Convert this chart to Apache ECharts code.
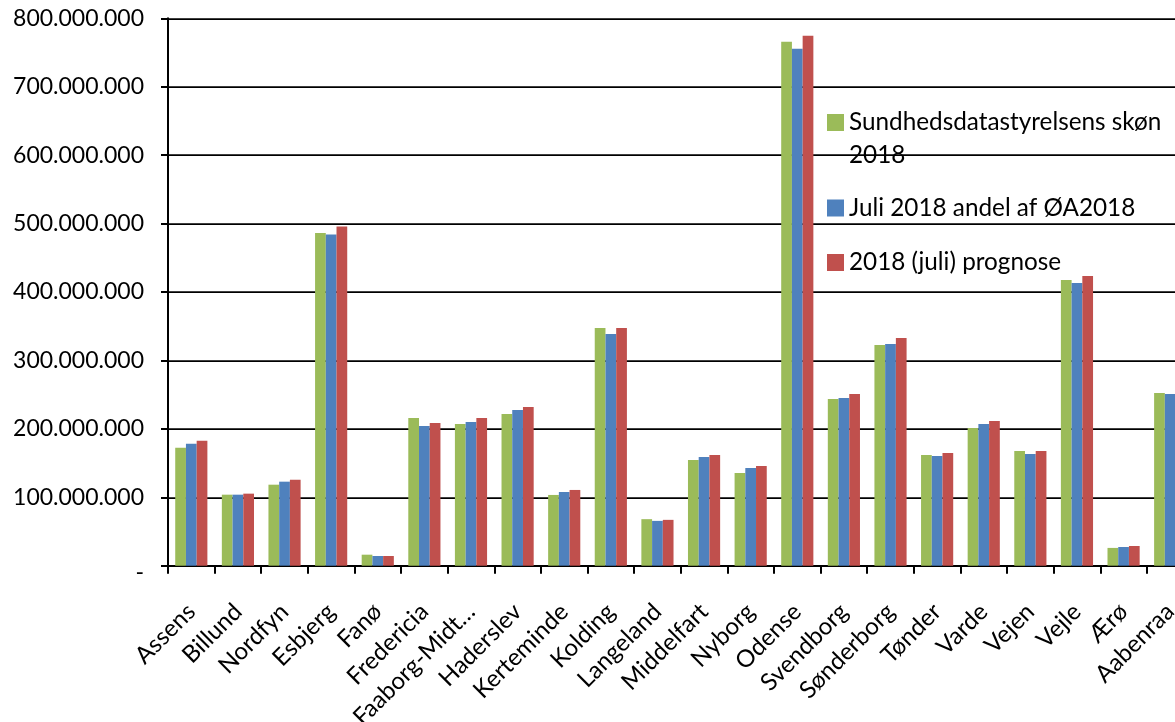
<!DOCTYPE html>
<html>
<head>
<meta charset="utf-8">
<title>Kommuner 2018</title>
<script src="https://cdn.jsdelivr.net/npm/echarts@6/dist/echarts.min.js"></script>
<style>
  html, body { margin: 0; padding: 0; background: #fff; overflow: hidden; }
  #chart { width: 1200px; height: 722px; }
</style>
</head>
<body>
<div id="chart"></div>
<script>
// Municipalities (category axis)
const kommuner = [
  'Assens', 'Billund', 'Nordfyn', 'Esbjerg', 'Fanø', 'Fredericia', 'Faaborg-Midtfyn',
  'Haderslev', 'Kerteminde', 'Kolding', 'Langeland', 'Middelfart', 'Nyborg', 'Odense',
  'Svendborg', 'Sønderborg', 'Tønder', 'Varde', 'Vejen', 'Vejle', 'Ærø', 'Aabenraa'
];

// Series names
const serieNavne = [
  'Sundhedsdatastyrelsens skøn 2018',
  'Juli 2018 andel af ØA2018',
  '2018 (juli) prognose'
];

// Values in DKK
const skoen2018 = [
  172500000, 103800000, 118400000, 486400000, 16100000, 215900000, 207200000,
  221800000, 103400000, 347500000, 68000000, 154500000, 135500000, 765600000,
  243700000, 322700000, 161800000, 201300000, 167700000, 417700000, 26000000, 252500000
];
const juliAndel = [
  178400000, 103800000, 122800000, 483900000, 14200000, 204200000, 210100000,
  227600000, 107700000, 338700000, 65500000, 158900000, 142800000, 755400000,
  245200000, 324100000, 160400000, 207200000, 163300000, 413300000, 27300000, 251000000
];
const prognose = [
  182700000, 105300000, 125700000, 495600000, 14200000, 208600000, 215900000,
  232000000, 110700000, 347500000, 67000000, 161800000, 145800000, 774400000,
  251000000, 332900000, 164800000, 211500000, 167700000, 423500000, 28800000, 256900000
];

// Value axis range
const yMin = 0;
const yMax = 800000000;
const yStep = 100000000;

const farver = ['#9BBB59', '#4F81BD', '#C0504D'];
const FONT = 'Lato, "Open Sans", sans-serif';

function tusind(v) {
  return String(Math.round(v)).replace(/\B(?=(\d{3})+(?!\d))/g, '.');
}

function kortNavn(s) {
  return s.length > 13 ? s.slice(0, 12) + '…' : s;
}

const chart = echarts.init(document.getElementById('chart'), null, { renderer: 'canvas' });

const serier = [skoen2018, juliAndel, prognose].map((data, i) => ({
  name: serieNavne[i],
  type: 'bar',
  data: data,
  barGap: '0%',
  barCategoryGap: '31%',
  itemStyle: { color: farver[i] },
  emphasis: { disabled: true }
}));

const legendTekst = { fontFamily: FONT, fontSize: 24.3, color: '#000', lineHeight: 33 };

function legende(i, top, extra) {
  return Object.assign({
    data: [serieNavne[i]],
    orient: 'vertical',
    left: 827,
    top: top,
    padding: 0,
    itemWidth: 17,
    itemHeight: 17,
    icon: 'rect',
    selectedMode: false,
    textStyle: legendTekst
  }, extra || {});
}

chart.setOption({
  animation: false,
  backgroundColor: '#fff',
  grid: {
    left: 168, right: 6.5, top: 18.3, bottom: 156.3,
    containLabel: false,
    outerBoundsMode: 'none'
  },
  legend: [
    // first entry wraps; an empty leading line keeps its swatch level with the first text line
    legende(0, 73, { formatter: () => ' \nSundhedsdatastyrelsens skøn\n2018' }),
    legende(1, 191.5),
    legende(2, 246)
  ],
  xAxis: {
    type: 'category',
    data: kommuner,
    axisLine: { lineStyle: { color: '#000', width: 2 } },
    axisTick: { show: true, length: 8, lineStyle: { color: '#000', width: 2 } },
    axisLabel: {
      rotate: 45,
      interval: 0,
      margin: 42,
      fontFamily: FONT,
      fontSize: 24,
      color: '#000',
      formatter: kortNavn
    }
  },
  yAxis: {
    type: 'value',
    min: yMin,
    max: yMax,
    interval: yStep,
    axisLine: { show: true, lineStyle: { color: '#000', width: 2 } },
    axisTick: { show: true, length: 7, lineStyle: { color: '#000', width: 2 } },
    splitLine: { lineStyle: { color: '#000', width: 1.75 } },
    axisLabel: {
      margin: 24,
      fontFamily: FONT,
      fontSize: 23,
      color: '#000',
      formatter: v => (v === 0 ? '{z|-}' : tusind(v)),
      rich: { z: { fontFamily: FONT, fontSize: 23, color: '#000', padding: [14, 0, 0, 0] } }
    }
  },
  series: serier
});
</script>
</body>
</html>
